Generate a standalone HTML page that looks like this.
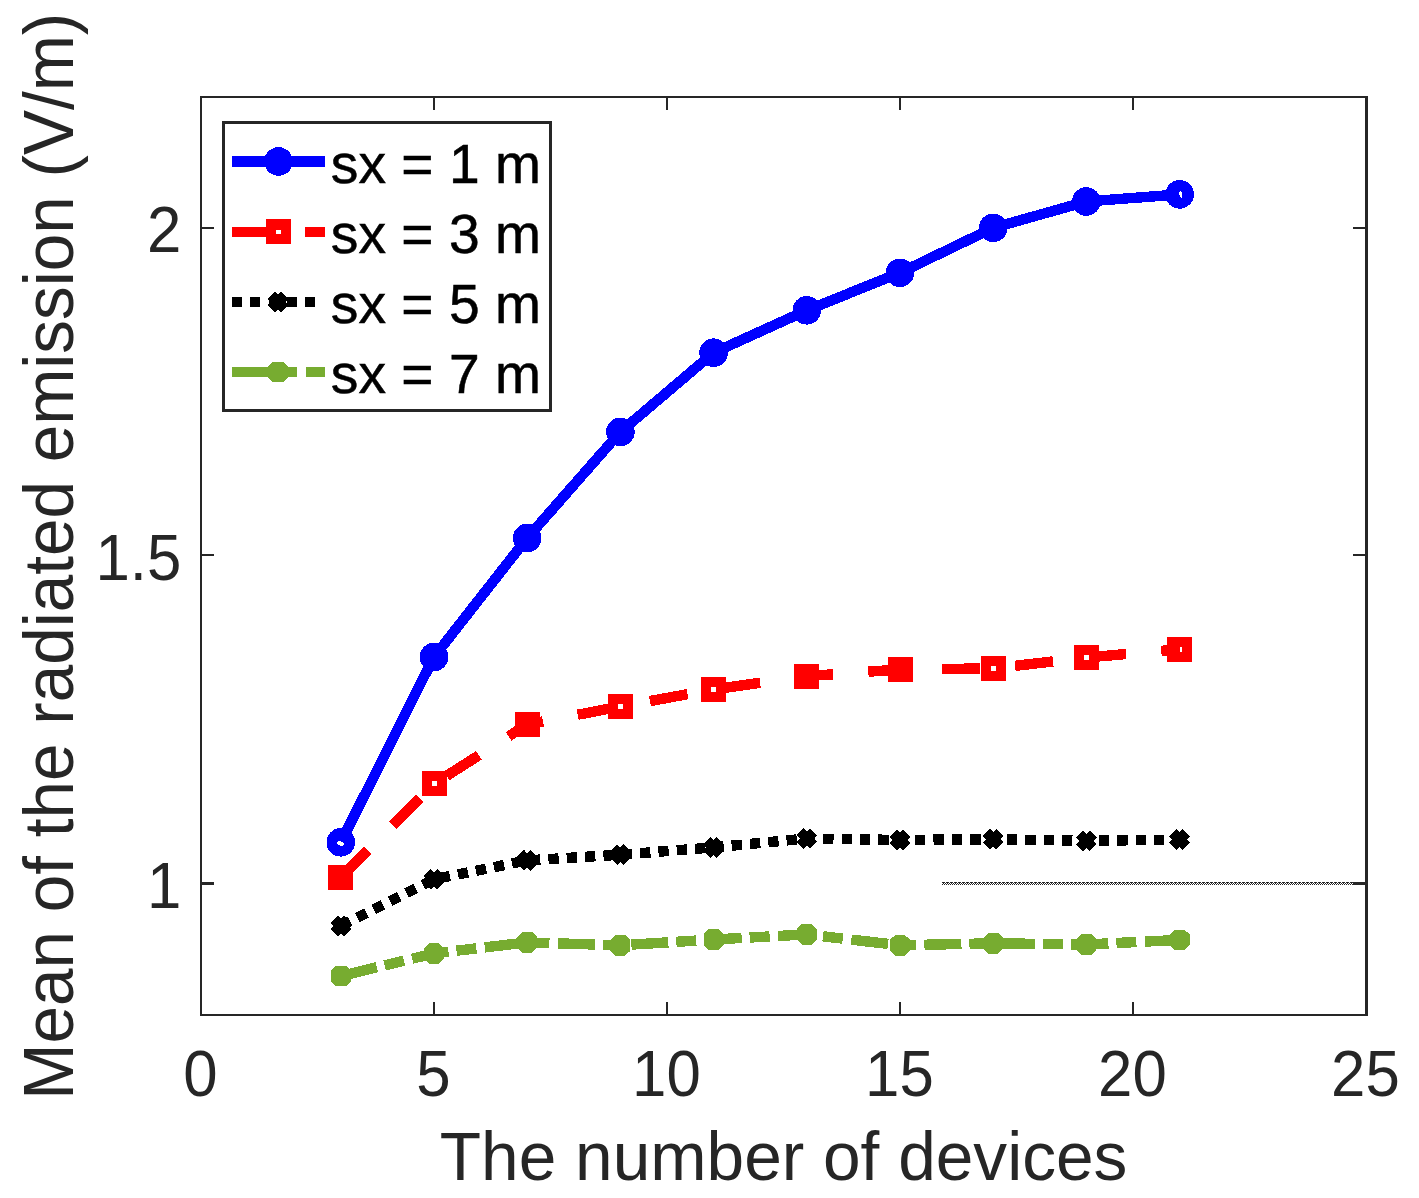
<!DOCTYPE html>
<html lang="en"><head><meta charset="utf-8"><title>Mean of the radiated emission</title>
<style>
html,body{margin:0;padding:0;background:#fff;}
svg{display:block;}
text{font-family:"Liberation Sans",Arial,sans-serif;}
.tick{font-size:61.8px;fill:#262626;}
.lab{font-size:67.6px;fill:#262626;}
.leg{font-size:55.2px;fill:#000;}
</style></head><body>
<svg width="1419" height="1198" viewBox="0 0 1419 1198">
<defs>
<pattern id="dith" x="942" y="882" width="4" height="3" patternUnits="userSpaceOnUse">
<rect x="0" y="0" width="3" height="1" fill="#262626"/>
<rect x="1" y="1" width="1" height="1" fill="#262626"/>
<rect x="3" y="1" width="1" height="1" fill="#262626"/>
<rect x="0" y="2" width="1" height="1" fill="#262626"/>
<rect x="2" y="2" width="1" height="1" fill="#262626"/>
</pattern>
</defs>
<rect width="1419" height="1198" fill="#fff"/>

<g shape-rendering="crispEdges" fill="#262626">
<rect x="200" y="96" width="2" height="920"/>
<rect x="1365" y="96" width="3" height="920"/>
<rect x="200" y="96" width="1168" height="2"/>
<rect x="200" y="1014" width="1168" height="2"/>
<rect x="433" y="98" width="2" height="12"/>
<rect x="433" y="1002" width="2" height="12"/>
<rect x="666" y="98" width="2" height="12"/>
<rect x="666" y="1002" width="2" height="12"/>
<rect x="899" y="98" width="2" height="12"/>
<rect x="899" y="1002" width="2" height="12"/>
<rect x="1132" y="98" width="2" height="12"/>
<rect x="1132" y="1002" width="2" height="12"/>
<rect x="202" y="227" width="12" height="2"/>
<rect x="1353" y="227" width="12" height="2"/>
<rect x="202" y="554" width="12" height="2"/>
<rect x="1353" y="554" width="12" height="2"/>
<rect x="202" y="882" width="12" height="3"/>
<rect x="1353" y="882" width="12" height="3"/>
</g>
<rect x="942" y="882" width="411" height="3" fill="url(#dith)" shape-rendering="crispEdges"/>
<text class="tick" transform="translate(200.4,1096) scale(1,1.035)" text-anchor="middle">0</text>
<text class="tick" transform="translate(433.4,1096) scale(1,1.035)" text-anchor="middle">5</text>
<text class="tick" transform="translate(666.4,1096) scale(1,1.035)" text-anchor="middle">10</text>
<text class="tick" transform="translate(899.4,1096) scale(1,1.035)" text-anchor="middle">15</text>
<text class="tick" transform="translate(1132.4,1096) scale(1,1.035)" text-anchor="middle">20</text>
<text class="tick" transform="translate(1365.4,1096) scale(1,1.035)" text-anchor="middle">25</text>
<text class="tick" transform="translate(181.3,251.7) scale(1,1.035)" text-anchor="end">2</text>
<text class="tick" transform="translate(181.3,579.9) scale(1,1.035)" text-anchor="end">1.5</text>
<text class="tick" transform="translate(181.3,907.5) scale(1,1.035)" text-anchor="end">1</text>
<text class="lab" x="783.6" y="1180" text-anchor="middle">The number of devices</text>
<text class="lab" style="font-size:67.45px" transform="translate(72.5,556.2) rotate(-90) scale(1,1.035)" text-anchor="middle">Mean of the radiated emission (V/m)</text>
<g shape-rendering="crispEdges">
<polyline points="340.8,976.0 434.0,953.4 527.2,942.4 620.4,945.3 713.6,939.5 806.8,934.4 900.0,945.3 993.2,943.3 1086.4,944.5 1179.6,939.9" fill="none" stroke="#77AC30" stroke-width="10.4" stroke-dasharray="37 8 20 8.5" stroke-linejoin="miter"/>
<polygon points="336.0,965.6 345.6,965.6 350.8,970.6 350.8,981.4 345.6,986.4 336.0,986.4 330.8,981.4 330.8,970.6" fill="#77AC30"/>
<polygon points="429.2,943.0 438.8,943.0 444.0,948.0 444.0,958.8 438.8,963.8 429.2,963.8 424.0,958.8 424.0,948.0" fill="#77AC30"/>
<polygon points="522.4,932.0 532.0,932.0 537.2,937.0 537.2,947.8 532.0,952.8 522.4,952.8 517.2,947.8 517.2,937.0" fill="#77AC30"/>
<polygon points="615.6,934.9 625.2,934.9 630.4,939.9 630.4,950.7 625.2,955.7 615.6,955.7 610.4,950.7 610.4,939.9" fill="#77AC30"/>
<polygon points="708.8,929.1 718.4,929.1 723.6,934.1 723.6,944.9 718.4,949.9 708.8,949.9 703.6,944.9 703.6,934.1" fill="#77AC30"/>
<polygon points="802.0,924.0 811.6,924.0 816.8,929.0 816.8,939.8 811.6,944.8 802.0,944.8 796.8,939.8 796.8,929.0" fill="#77AC30"/>
<polygon points="895.2,934.9 904.8,934.9 910.0,939.9 910.0,950.7 904.8,955.7 895.2,955.7 890.0,950.7 890.0,939.9" fill="#77AC30"/>
<polygon points="988.4,932.9 998.0,932.9 1003.2,937.9 1003.2,948.7 998.0,953.7 988.4,953.7 983.2,948.7 983.2,937.9" fill="#77AC30"/>
<polygon points="1081.6,934.1 1091.2,934.1 1096.4,939.1 1096.4,949.9 1091.2,954.9 1081.6,954.9 1076.4,949.9 1076.4,939.1" fill="#77AC30"/>
<polygon points="1174.8,929.5 1184.4,929.5 1189.6,934.5 1189.6,945.3 1184.4,950.3 1174.8,950.3 1169.6,945.3 1169.6,934.5" fill="#77AC30"/>
<polyline points="340.8,926.0 434.0,879.3 527.2,860.4 620.4,854.7 713.6,847.4 806.8,838.5 900.0,840.0 993.2,839.2 1086.4,840.9 1179.6,839.5" fill="none" stroke="#000" stroke-width="10.4" stroke-dasharray="10.3 8.08"/>
<path d="M334.0 919.2L347.6 932.8M334.0 932.8L347.6 919.2" stroke="#000" stroke-width="10.2" fill="none"/>
<path d="M427.2 872.5L440.8 886.1M427.2 886.1L440.8 872.5" stroke="#000" stroke-width="10.2" fill="none"/>
<path d="M520.4 853.6L534.0 867.2M520.4 867.2L534.0 853.6" stroke="#000" stroke-width="10.2" fill="none"/>
<path d="M613.6 847.9L627.2 861.5M613.6 861.5L627.2 847.9" stroke="#000" stroke-width="10.2" fill="none"/>
<path d="M706.8 840.6L720.4 854.2M706.8 854.2L720.4 840.6" stroke="#000" stroke-width="10.2" fill="none"/>
<path d="M800.0 831.7L813.6 845.3M800.0 845.3L813.6 831.7" stroke="#000" stroke-width="10.2" fill="none"/>
<path d="M893.2 833.2L906.8 846.8M893.2 846.8L906.8 833.2" stroke="#000" stroke-width="10.2" fill="none"/>
<path d="M986.4 832.4L1000.0 846.0M986.4 846.0L1000.0 832.4" stroke="#000" stroke-width="10.2" fill="none"/>
<path d="M1079.6 834.1L1093.2 847.7M1079.6 847.7L1093.2 834.1" stroke="#000" stroke-width="10.2" fill="none"/>
<path d="M1172.8 832.7L1186.4 846.3M1172.8 846.3L1186.4 832.7" stroke="#000" stroke-width="10.2" fill="none"/>
<polyline points="340.8,877.4 434.0,783.9 527.2,724.5 620.4,706.5 713.6,689.4 806.8,676.2 900.0,669.4 993.2,668.4 1086.4,657.5 1179.6,649.3" fill="none" stroke="#FF0000" stroke-width="10.4" stroke-dasharray="38.2 35.3"/>
<rect x="328.3" y="864.9" width="25" height="25" fill="#FF0000"/>
<rect x="421.5" y="771.4" width="25" height="25" fill="#FF0000"/>
<rect x="514.7" y="712.0" width="25" height="25" fill="#FF0000"/>
<rect x="607.9" y="694.0" width="25" height="25" fill="#FF0000"/>
<rect x="701.1" y="676.9" width="25" height="25" fill="#FF0000"/>
<rect x="794.3" y="663.7" width="25" height="25" fill="#FF0000"/>
<rect x="887.5" y="656.9" width="25" height="25" fill="#FF0000"/>
<rect x="980.7" y="655.9" width="25" height="25" fill="#FF0000"/>
<rect x="1073.9" y="645.0" width="25" height="25" fill="#FF0000"/>
<rect x="1167.1" y="636.8" width="25" height="25" fill="#FF0000"/>
<polyline points="340.8,842.3 434.0,657.0 527.2,538.0 620.4,431.9 713.6,352.7 806.8,310.3 900.0,272.8 993.2,227.9 1086.4,201.5 1179.6,194.4" fill="none" stroke="#0000FF" stroke-width="10.4" stroke-linejoin="round"/>
<circle cx="340.8" cy="842.3" r="14.3" fill="#0000FF"/>
<circle cx="434.0" cy="657.0" r="14.3" fill="#0000FF"/>
<circle cx="527.2" cy="538.0" r="14.3" fill="#0000FF"/>
<circle cx="620.4" cy="431.9" r="14.3" fill="#0000FF"/>
<circle cx="713.6" cy="352.7" r="14.3" fill="#0000FF"/>
<circle cx="806.8" cy="310.3" r="14.3" fill="#0000FF"/>
<circle cx="900.0" cy="272.8" r="14.3" fill="#0000FF"/>
<circle cx="993.2" cy="227.9" r="14.3" fill="#0000FF"/>
<circle cx="1086.4" cy="201.5" r="14.3" fill="#0000FF"/>
<circle cx="1179.6" cy="194.4" r="14.3" fill="#0000FF"/>
</g>
<g fill="#fff" shape-rendering="crispEdges">
<ellipse cx="340.5" cy="843.5" rx="3.6" ry="2.2" transform="rotate(25 340.5 843.5)"/>
<ellipse cx="1180.8" cy="194.5" rx="1.3" ry="3.2" transform="rotate(-10 1180.8 194.5)"/>
<rect x="432" y="781" width="5" height="5"/>
<rect x="618" y="704" width="5" height="5"/>
<rect x="711" y="687" width="5" height="5"/>
<rect x="991" y="666" width="5" height="5"/>
<rect x="1084" y="655" width="5" height="5"/>
<rect x="1180" y="647" width="2" height="5"/>
</g>
<g shape-rendering="crispEdges">
<rect x="223.5" y="122.5" width="327" height="288" fill="#fff" stroke="#262626" stroke-width="3"/>
<line x1="232" y1="161.5" x2="325" y2="161.5" stroke="#0000FF" stroke-width="10.4"/>
<circle cx="278.5" cy="161.5" r="14.3" fill="#0000FF"/>
<line x1="232" y1="232.0" x2="325" y2="232.0" stroke="#FF0000" stroke-width="10.4" stroke-dasharray="37.5 35.5"/>
<rect x="266.0" y="219.0" width="25" height="25" fill="#FF0000"/>
<rect x="276" y="230" width="5" height="4" fill="#fff"/>
<line x1="232" y1="302.0" x2="316" y2="302.0" stroke="#000" stroke-width="10.4" stroke-dasharray="10.2 8.05"/>
<path d="M271.2 295.2L284.8 308.8M271.2 308.8L284.8 295.2" stroke="#000" stroke-width="10.2" fill="none"/>
<line x1="232" y1="372.0" x2="325" y2="372.0" stroke="#77AC30" stroke-width="10.4" stroke-dasharray="37 8 20 8.5"/>
<polygon points="273.4,361.6 283.0,361.6 288.2,366.6 288.2,377.4 283.0,382.4 273.4,382.4 268.2,377.4 268.2,366.6" fill="#77AC30"/>
</g>
<text class="leg" transform="translate(330.8,183.0) scale(1,1)" stroke="#000" stroke-width="0.5">sx = 1 m</text>
<text class="leg" transform="translate(330.8,253.1) scale(1,1)" stroke="#000" stroke-width="0.5">sx = 3 m</text>
<text class="leg" transform="translate(330.8,323.2) scale(1,1)" stroke="#000" stroke-width="0.5">sx = 5 m</text>
<text class="leg" transform="translate(330.8,393.3) scale(1,1)" stroke="#000" stroke-width="0.5">sx = 7 m</text>
</svg></body></html>
